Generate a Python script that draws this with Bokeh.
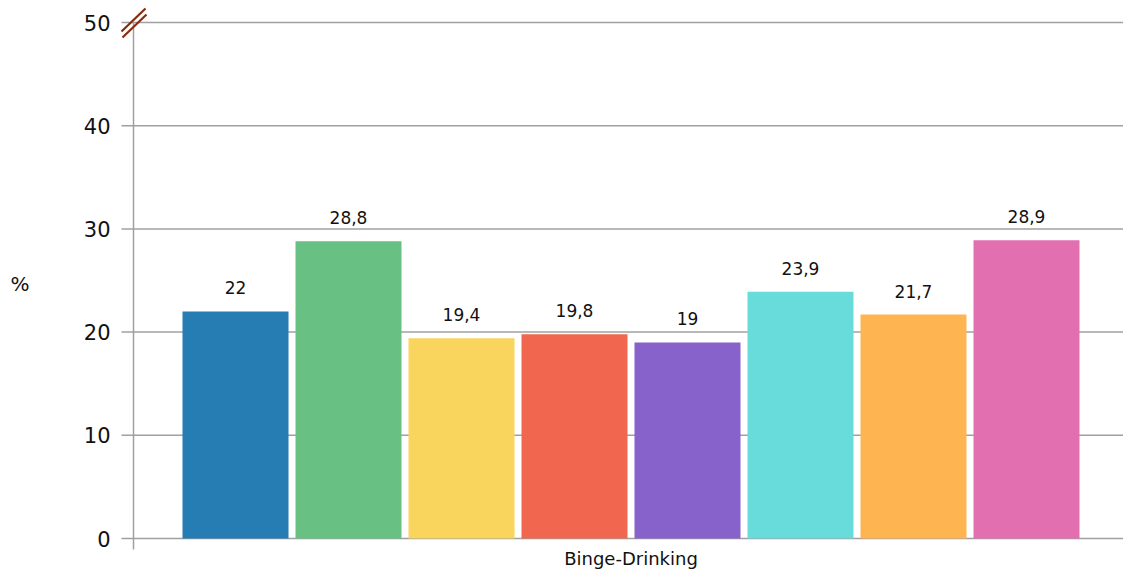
from bokeh.plotting import figure
from bokeh.models import Range1d, ColumnDataSource
from bokeh.core.properties import value
from bokeh.embed import file_html
from bokeh.resources import INLINE

# data
category = "Binge-Drinking"
values = [22, 28.8, 19.4, 19.8, 19, 23.9, 21.7, 28.9]
colors = ["#267db3", "#68c182", "#f9d55d", "#f0664e", "#8662ca", "#68dcdb", "#ffb452", "#e270b1"]
y_ticks = [0, 10, 20, 30, 40, 50]
y_unit = "%"

def fmt(v):
    return ("%g" % v).replace(".", ",")

FONT = "DejaVu Sans"
GRID = "#a0a0a0"
TXT = "#111111"

W, H = 1123, 570
# pixel geometry (screen px)
PLOT_LEFT, PLOT_RIGHT = 133, 1123
PX_PER_X = 113.0
PX_PER_Y = 10.32
ZERO_PY = 538
BAR0_PX = 235

def px_to_x(px):
    return (px - BAR0_PX) / PX_PER_X

def py_to_y(py):
    return (ZERO_PY - py) / PX_PER_Y

xs = list(range(len(values)))
src = ColumnDataSource(dict(x=xs, top=values, color=colors, label=[fmt(v) for v in values]))

p = figure(width=W, height=H, output_backend="svg", toolbar_location=None,
           x_range=Range1d(px_to_x(0), px_to_x(W)), y_range=Range1d(py_to_y(H), py_to_y(0)),
           min_border_left=0, min_border_right=0, min_border_top=0, min_border_bottom=0)
p.outline_line_color = None
p.background_fill_color = "white"
p.xaxis.visible = False
p.yaxis.visible = False
p.xgrid.grid_line_color = None
p.ygrid.grid_line_color = None

# grid lines incl. outer tick marks
p.segment(x0=px_to_x(121), x1=px_to_x(PLOT_RIGHT), y0=y_ticks, y1=y_ticks, line_color=GRID, line_width=1.5)
# y axis line
p.segment(x0=[px_to_x(PLOT_LEFT)], x1=[px_to_x(PLOT_LEFT)], y0=[py_to_y(549)], y1=[max(y_ticks)],
          line_color=GRID, line_width=1.5)

# bars
p.vbar(x="x", top="top", bottom=0, width=106 / 113, color="color", line_color=None, source=src)

# value labels
p.text(x="x", y="top", text="label", source=src, y_offset=-17, text_align="center",
       text_baseline="bottom", text_font_size=value("17px"), text_font=value(FONT), text_color=TXT)

# y tick labels
p.text(x=[px_to_x(110)] * len(y_ticks), y=y_ticks, text=[str(t) for t in y_ticks],
       text_align="right", text_baseline="middle", text_font_size=value("21px"),
       text_font=value(FONT), text_color=TXT)

# y unit label
p.text(x=[px_to_x(10)], y=[py_to_y(283)], text=[y_unit], text_align="left", text_baseline="middle",
       text_font_size=value("20px"), text_font=value(FONT), text_color=TXT)

# category label
p.text(x=[sum(xs) / len(xs)], y=[py_to_y(558)], text=[category], text_align="center",
       text_baseline="middle", text_font_size=value("18px"), text_font=value(FONT), text_color=TXT)

# axis break marks
for (x0, y0, x1, y1) in [(121, 31, 145, 8), (122, 37, 146, 14)]:
    p.segment(x0=[px_to_x(x0)], y0=[py_to_y(y0)], x1=[px_to_x(x1)], y1=[py_to_y(y1)],
              line_color="#8b2a0a", line_width=2.2)

open("out.html", "w").write(file_html(p, INLINE))
